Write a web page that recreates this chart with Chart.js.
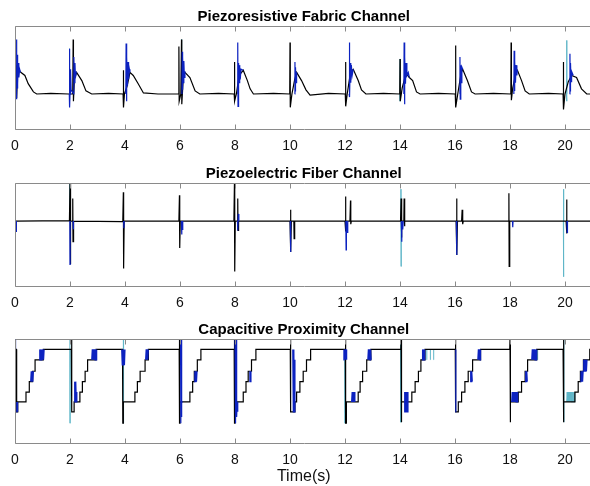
<!DOCTYPE html>
<html>
<head>
<meta charset="utf-8">
<script src="https://cdn.jsdelivr.net/npm/chart.js@4.4.0/dist/chart.umd.min.js"></script>
<style>
  html, body { margin: 0; padding: 0; background: #fff; }
  body { width: 590px; height: 486px; overflow: hidden; position: relative; }
  canvas { position: absolute; left: 0; }
</style>
</head>
<body>
<canvas id="c1" width="600" height="167" style="top:0px"></canvas>
<canvas id="c2" width="600" height="167" style="top:157px"></canvas>
<canvas id="c3" width="600" height="175" style="top:313px"></canvas>
<script>
// tick labels along the time axis (seconds)
const xTicks = [0, 2, 4, 6, 8, 10, 12, 14, 16, 18, 20];
const panelTitles = ['Piezoresistive Fabric Channel', 'Piezoelectric Fiber Channel', 'Capacitive Proximity Channel'];

// Piezoresistive fabric channel, [time, level] (arbitrary units, 0-100)
const pfBlack = [
  [0,34],[0.04,34],[0.055,62],[0.065,30],[0.09,52],[0.13,58],[0.21,55],[0.36,52],[0.48,44],[0.67,36],[0.79,34],[1.3,34.5],[1.96,34],
  [2.1,34],[2.115,87],[2.125,27],[2.16,48],[2.24,55],[2.43,47],[2.58,37],[2.79,34],[3.4,34.5],[3.93,34],
  [3.94,57],[3.95,21],[3.98,34],[4.08,42],[4.18,55],[4.3,52],[4.48,44],[4.67,35],[5.2,34],[5.95,34],
  [5.96,80],[5.97,27],[6.03,34],[6.055,87],[6.065,24],[6.12,50],[6.18,55],[6.36,50],[6.55,37],[6.72,34],[7.4,34.5],[7.97,34],
  [7.98,65],[7.99,27],[8.05,34],[8.15,52],[8.3,57],[8.45,47],[8.55,39],[8.67,34],[9.4,34.5],[9.99,34],
  [10.0,84],[10.01,21],[10.07,34],[10.17,48],[10.24,55],[10.42,47],[10.58,38],[10.73,33],[11.4,34.5],[12.01,34],
  [12.02,65],[12.03,22],[12.08,34],[12.2,55],[12.3,58],[12.48,47],[12.6,38],[12.76,34],[13.4,34.5],[13.99,34],
  [14.0,68],[14.01,27],[14.08,40],[14.22,54],[14.34,50],[14.46,47],[14.6,36],[14.73,34],[15.4,34.5],[16.01,34],
  [16.02,81],[16.03,21],[16.1,34],[16.22,54],[16.28,58],[16.45,47],[16.6,36],[16.73,34],[17.4,34.5],[18.03,34],
  [18.04,84],[18.05,28],[18.1,40],[18.22,55],[18.27,57],[18.42,47],[18.55,37],[18.7,34],[19.4,34.5],[19.93,34],
  [19.94,65],[19.95,19],[20.0,34],[20.12,46],[20.24,52],[20.42,50],[20.6,39],[20.79,34],[21,34]
];
const pfBlue = [
  [0.045,34],[0.05,87],[0.06,29],[0.07,70],[0.08,40],[0.09,72],[0.1,44],[0.12,64],[0.14,50],[0.17,58],[0.2,55],[0.21,null],
  [1.975,34],[1.98,78],[1.99,21],[2.0,34],[2.02,58],[2.04,38],[2.135,34],[2.14,70],[2.16,45],[2.18,64],[2.2,50],[2.23,56],[2.24,null],
  [4.03,34],[4.04,83],[4.05,27],[4.07,70],[4.09,42],[4.11,65],[4.13,48],[4.16,58],[4.18,55],[4.19,null],
  [6.07,34],[6.08,75],[6.09,38],[6.1,70],[6.12,45],[6.14,66],[6.16,50],[6.18,56],[6.19,null],
  [8.09,34],[8.1,84],[8.11,22],[8.13,64],[8.15,45],[8.17,62],[8.19,48],[8.22,58],[8.3,57],[8.31,null],
  [10.17,34],[10.18,65],[10.19,37],[10.2,60],[10.22,45],[10.24,55],[10.25,null],
  [12.15,34],[12.16,84],[12.17,31],[12.19,64],[12.21,45],[12.23,62],[12.26,52],[12.3,58],[12.31,null],
  [14.14,34],[14.15,84],[14.16,24],[14.18,70],[14.2,44],[14.22,64],[14.25,52],[14.3,55],[14.34,50],[14.35,null],
  [16.17,34],[16.18,70],[16.19,29],[16.21,62],[16.23,45],[16.25,60],[16.28,58],[16.29,null],
  [18.14,34],[18.15,76],[18.16,37],[18.18,66],[18.2,45],[18.22,62],[18.25,52],[18.27,57],[18.28,null],
  [20.17,34],[20.18,73],[20.19,37],[20.2,64],[20.22,46],[20.24,56],[20.3,52]
];
const pfCyan = [
  [1.975,34],[1.98,78],[1.985,40],[1.99,null],[6.05,34],[6.055,87],[6.06,34],[6.065,null],
  [14.0,34],[14.003,68],[14.006,27],[14.01,null],[20.05,34],[20.06,86],[20.065,27],[20.07,34]
];

// Piezoelectric fiber channel
const peBlack = [
  [0,63],[1.98,63.5],[2.0,100],[2.01,21],[2.03,63],[2.09,63],[2.1,85],[2.11,43],[2.13,63],[3.92,62.5],[3.94,91],[3.95,17],[3.97,63],
  [5.96,63],[5.98,88],[5.99,37],[6.01,63],[7.96,63],[7.98,100],[7.99,14],[8.01,63],[8.09,63],[8.1,85],[8.11,54],[8.13,63],
  [10.0,63],[10.02,74],[10.03,33],[10.05,63],[10.14,63],[10.15,46],[10.17,63],[12.0,63],[12.02,87],[12.03,53],[12.05,63],
  [12.18,63],[12.2,83],[12.21,60],[12.23,63],[14.02,63],[14.04,85],[14.05,47],[14.07,63],[14.14,63],[14.15,85],[14.16,58],[14.18,63],
  [16.04,63],[16.06,85],[16.07,30],[16.09,63],[16.24,63],[16.26,74],[16.28,60],[16.3,63],[17.94,63],[17.96,90],[17.97,19],[17.99,63],
  [20.04,63],[20.06,84],[20.07,51],[20.09,63],[21,63]
];
const peBlue = [
  [0.03,63],[0.04,53],[0.05,63],[0.06,null],[1.995,63],[2.0,21],[2.005,63],[2.01,null],[2.11,63],[2.12,55],[2.13,63],[2.14,null],
  [3.95,63],[3.96,56],[3.97,63],[3.98,null],[6.05,63],[6.06,50],[6.07,63],[6.09,55],[6.1,63],[6.11,null],
  [8.09,63],[8.1,54],[8.12,70],[8.14,63],[8.15,null],[10.01,63],[10.02,33],[10.03,63],[10.04,null],
  [12.03,63],[12.04,35],[12.05,63],[12.08,52],[12.1,63],[12.11,null],[14.05,63],[14.06,43],[14.07,63],[14.1,55],[14.12,63],[14.13,null],
  [16.05,63],[16.06,30],[16.07,63],[16.08,null],[18.09,63],[18.1,57],[18.11,63],[18.12,null],[20.07,63],[20.08,52],[20.09,63]
];
const peCyan = [
  [1.99,63],[1.995,100],[2.0,63],[2.005,null],[14.03,63],[14.035,94],[14.04,19],[14.045,63],[14.05,null],
  [19.94,63],[19.945,94],[19.95,9],[19.955,63]
];

// Capacitive proximity channel
const cpBlack = [
  [0,90],[0.055,90],[0.06,30],[0.1,30],[0.1,39.5],[0.4,39.5],[0.4,49],[0.52,49],[0.52,59],[0.64,59],[0.64,69],[0.73,69],[0.73,80],[1.03,80],[1.03,90],
  [2.05,90],[2.06,100],[2.065,30],[2.15,30],[2.15,39.5],[2.36,39.5],[2.36,49],[2.45,49],[2.45,59],[2.55,59],[2.55,69],[2.64,69],[2.64,80],[2.95,80],[2.95,90],
  [3.91,90],[3.92,19],[3.94,19],[3.94,39.5],[4.36,39.5],[4.36,49],[4.45,49],[4.45,59],[4.55,59],[4.55,69],[4.73,69],[4.73,80],[4.85,80],[4.85,90],
  [5.97,90],[5.98,100],[5.985,19],[6.0,19],[6.0,39.5],[6.36,39.5],[6.36,49],[6.46,49],[6.46,59],[6.52,59],[6.52,69],[6.63,69],[6.63,80],[6.76,80],[6.76,90],
  [7.97,90],[7.98,100],[7.985,19],[8.0,19],[8.0,39.5],[8.3,39.5],[8.3,49],[8.4,49],[8.4,59],[8.48,59],[8.48,69],[8.6,69],[8.6,80],[8.76,80],[8.76,90],
  [10.01,90],[10.02,100],[10.025,30],[10.18,30],[10.18,39.5],[10.24,39.5],[10.24,49],[10.36,49],[10.36,59],[10.48,59],[10.48,69],[10.6,69],[10.6,80],[10.75,80],[10.75,90],
  [12.01,90],[12.02,100],[12.025,19],[12.05,19],[12.05,39.5],[12.48,39.5],[12.48,49],[12.55,49],[12.55,59],[12.64,59],[12.64,69],[12.79,69],[12.79,80],[12.94,80],[12.94,90],
  [14.03,90],[14.04,100],[14.045,20],[14.06,20],[14.06,39.5],[14.43,39.5],[14.43,49],[14.55,49],[14.55,59],[14.67,59],[14.67,69],[14.76,69],[14.76,80],[14.91,80],[14.91,90],
  [16.01,90],[16.02,100],[16.025,30],[16.12,30],[16.12,39.5],[16.24,39.5],[16.24,49],[16.36,49],[16.36,59],[16.48,59],[16.48,69],[16.64,69],[16.64,80],[16.93,80],[16.93,90],
  [17.99,90],[18.0,100],[18.005,20],[18.02,20],[18.02,39.5],[18.3,39.5],[18.3,49],[18.42,49],[18.42,59],[18.55,59],[18.55,69],[18.64,69],[18.64,80],[18.97,80],[18.97,90],
  [19.93,90],[19.94,100],[19.945,20],[19.96,20],[19.96,39.5],[20.36,39.5],[20.36,49],[20.48,49],[20.48,59],[20.56,59],[20.56,69],[20.67,69],[20.67,80],[20.9,80],[20.9,90],[21,90]
];
const cpBlue = [
  [0,100],[0.01,90],[0.02,100],[0.03,90],[0.04,null],
  [0.05,30],[0.06,39.5],[0.07,30],[0.08,39.5],[0.09,30],[0.1,39.5],[0.11,null],
  [0.57,59],[0.59,69],[0.61,59],[0.63,69],[0.65,59],[0.67,69],[0.68,null],
  [0.88,80],[0.9,90],[0.92,80],[0.94,90],[0.96,80],[0.98,90],[1.0,80],[1.02,90],[1.04,80],[1.06,90],[1.07,null],
  [2.15,39.5],[2.17,59],[2.19,39.5],[2.21,59],[2.23,39.5],[2.25,49],[2.26,null],
  [2.79,80],[2.81,90],[2.83,80],[2.85,90],[2.87,80],[2.89,90],[2.91,80],[2.93,90],[2.95,80],[2.97,90],[2.98,null],
  [3.88,90],[3.9,75],[3.92,90],[3.94,75],[3.96,90],[3.98,75],[4.0,90],[4.01,null],
  [4.75,80],[4.77,90],[4.79,80],[4.81,90],[4.83,80],[4.85,90],[4.86,null],
  [6.02,100],[6.03,19],[6.04,100],[6.05,25],[6.06,90],[6.07,39.5],[6.1,39.5],[6.11,null],
  [6.52,59],[6.54,69],[6.56,59],[6.58,69],[6.6,59],[6.62,69],[6.63,null],
  [8.0,100],[8.02,19],[8.04,100],[8.06,25],[8.08,39.5],[8.1,30],[8.11,null],
  [8.52,59],[8.54,69],[8.56,59],[8.58,69],[8.59,null],
  [10.1,90],[10.12,30],[10.14,90],[10.16,30],[10.18,80],[10.19,null],
  [11.94,80],[11.96,90],[11.98,80],[12.0,90],[12.02,80],[12.04,90],[12.06,80],[12.07,null],
  [12.24,39.5],[12.26,49],[12.28,39.5],[12.3,49],[12.32,39.5],[12.34,49],[12.36,39.5],[12.37,null],
  [12.83,80],[12.85,90],[12.87,80],[12.89,90],[12.91,80],[12.93,90],[12.95,80],[12.96,null],
  [14.15,30],[14.17,49],[14.19,30],[14.21,49],[14.23,30],[14.25,49],[14.27,30],[14.29,49],[14.3,null],
  [14.8,80],[14.82,90],[14.84,80],[14.86,90],[14.88,80],[14.9,90],[14.91,null],
  [16.02,30],[16.03,90],[16.04,null],
  [16.55,59],[16.57,69],[16.59,59],[16.61,69],[16.63,59],[16.64,null],
  [16.83,80],[16.85,90],[16.87,80],[16.89,90],[16.91,80],[16.93,90],[16.94,null],
  [18.06,39.5],[18.08,49],[18.1,39.5],[18.12,49],[18.14,39.5],[18.16,49],[18.18,39.5],[18.2,49],[18.22,39.5],[18.24,49],[18.26,39.5],[18.28,49],[18.3,null],
  [18.55,59],[18.57,69],[18.59,59],[18.61,69],[18.63,59],[18.64,null],
  [18.79,80],[18.81,90],[18.83,80],[18.85,90],[18.87,80],[18.89,90],[18.91,80],[18.93,90],[18.95,80],[18.97,90],[18.98,null],
  [20.56,59],[20.58,69],[20.6,59],[20.62,69],[20.64,59],[20.66,69],[20.68,80],[20.7,69],[20.72,80],[20.74,69],[20.76,80],[20.78,69],[20.8,80]
];
const cpCyan = [
  [1.995,100],[2.0,19],[2.005,90],[2.01,null],[3.94,100],[3.945,19],[3.95,90],[3.955,null],
  [12.0,90],[12.005,19],[12.01,null],[14.02,100],[14.025,20],[14.03,null],
  [14.97,80],[14.975,90],[14.98,null],[15.1,80],[15.105,90],[15.11,null],[15.22,80],[15.225,90],[15.23,null],
  [19.0,80],[19.005,90],[19.01,null],[19.96,100],[19.965,20],[19.97,null],
  [20.06,39.5],[20.08,49],[20.1,39.5],[20.12,49],[20.14,39.5],[20.16,49],[20.18,39.5],[20.2,49],
  [20.22,39.5],[20.24,49],[20.26,39.5],[20.28,49],[20.3,39.5],[20.32,49],[20.34,39.5],[20.36,49]
];

const FONT = "'Liberation Sans', Arial, Helvetica, sans-serif";

const toXY = arr => arr.map(([x, y]) => ({ x, y }));

// MATLAB-like box with inward ticks
const framePlugin = {
  id: 'frame',
  afterDatasetsDraw(chart) {
    const { ctx, chartArea: a, scales: { x } } = chart;
    const l = Math.round(a.left) + 0.5, r = Math.round(a.right) + 0.5;
    const t = Math.round(a.top) + 0.5, b = Math.round(a.bottom) + 0.5;
    ctx.save();
    ctx.strokeStyle = '#8a8a8a';
    ctx.lineWidth = 1;
    ctx.beginPath();
    ctx.moveTo(r, t); ctx.lineTo(l, t); ctx.lineTo(l, b); ctx.lineTo(r, b); ctx.lineTo(r, t);
    xTicks.forEach(v => {
      const px = Math.round(x.getPixelForValue(v)) + 0.5;
      ctx.moveTo(px, b); ctx.lineTo(px, b - 5);
      ctx.moveTo(px, t); ctx.lineTo(px, t + 5);
    });
    ctx.stroke();
    ctx.restore();
  }
};

function makeChart(id, title, black, blue, cyan, showXTitle) {
  const line = (data, color, width) => ({
    data: toXY(data),
    borderColor: color,
    borderWidth: width,
    pointRadius: 0,
    tension: 0,
    spanGaps: false
  });
  new Chart(document.getElementById(id), {
    type: 'line',
    data: {
      datasets: [
        line(blue, '#0c22c0', 1.2),
        line(black, '#000000', 1.2),
        line(cyan, '#5fb6c8', 1)
      ]
    },
    plugins: [framePlugin],
    options: {
      responsive: false,
      animation: false,
      events: [],
      layout: { padding: { left: 15, right: 7.5, top: 0, bottom: showXTitle ? 2 : 3.2 } },
      plugins: {
        legend: { display: false },
        tooltip: { enabled: false },
        title: {
          display: true,
          text: title,
          color: '#000',
          font: { family: FONT, size: 15, weight: 'bold' },
          padding: { top: 8, bottom: 0 }
        }
      },
      scales: {
        x: {
          type: 'linear',
          min: 0,
          max: 21,
          afterBuildTicks: s => { s.ticks = xTicks.map(v => ({ value: v })); },
          ticks: {
            color: '#111',
            font: { family: FONT, size: 14 },
            padding: 9,
            maxRotation: 0,
            autoSkip: false
          },
          grid: { display: false, drawTicks: false },
          border: { display: false },
          title: {
            display: showXTitle,
            text: 'Time(s)',
            color: '#111',
            font: { family: FONT, size: 16 },
            padding: { top: -11, bottom: 0 }
          }
        },
        y: { display: false, min: 0, max: 100 }
      }
    }
  });
}

document.addEventListener('DOMContentLoaded', () => {
  makeChart('c1', panelTitles[0], pfBlack, pfBlue, pfCyan, false);
  makeChart('c2', panelTitles[1], peBlack, peBlue, peCyan, false);
  makeChart('c3', panelTitles[2], cpBlack, cpBlue, cpCyan, true);
});
</script>
</body>
</html>
